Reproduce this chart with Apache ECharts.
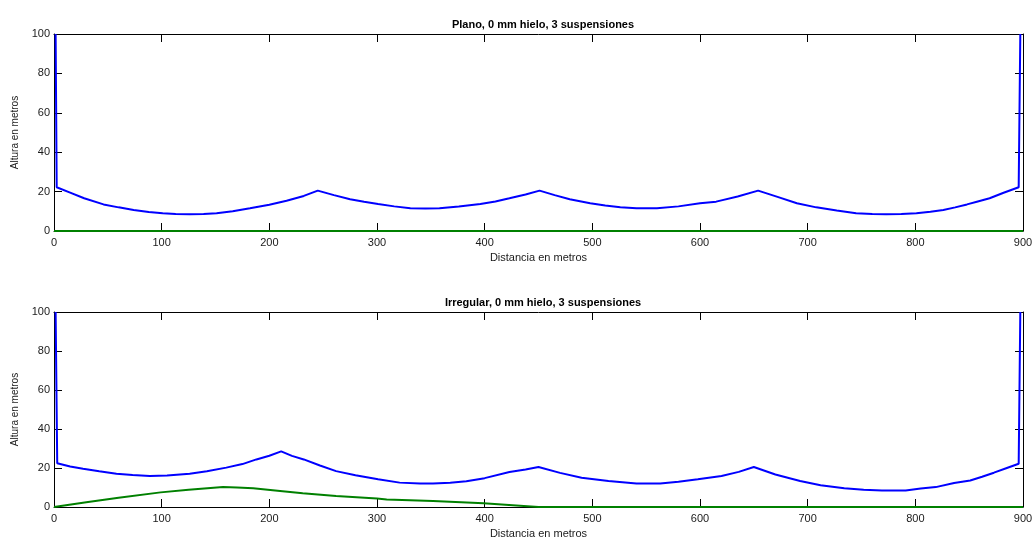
<!DOCTYPE html>
<html>
  <head>
    <meta charset="utf-8">
    <title>Perfil de vano</title>
    <script src="https://cdn.jsdelivr.net/npm/echarts@6/dist/echarts.min.js"></script>
    <style>
      html, body { margin: 0; padding: 0; background: #fff; }
    </style>
  </head>
  <body>
    <div id="chart" style="width: 1036px; height: 540px;"></div>
    <script type="text/javascript">
      // titulos y etiquetas
      var titles = ["Plano, 0 mm hielo, 3 suspensiones", "Irregular, 0 mm hielo, 3 suspensiones"];
      var xName = "Distancia en metros";
      var yName = "Altura en metros";

      // conductor (azul), caso plano
      var conductorPlano = [
        [1.5, 100], [2.5, 22.2], [15, 19.5], [28, 16.6], [46, 13.5], [60, 12], [74, 10.7],
        [88, 9.7], [101, 9.0], [113, 8.6], [126, 8.5], [139, 8.6], [151, 9.0], [166, 10],
        [182, 11.5], [200, 13.3], [216, 15.4], [232, 17.8], [245, 20.5], [260, 18.2],
        [275, 16.1], [288, 14.8], [301, 13.7], [316, 12.5], [331, 11.5], [345, 11.4],
        [358, 11.5], [376, 12.4], [396, 13.7], [410, 15], [423, 16.6], [438, 18.5],
        [451, 20.5], [465, 18.2], [479, 16.1], [498, 14.1], [512, 12.9], [526, 12.0],
        [541, 11.5], [560, 11.5], [580, 12.5], [600, 14.1], [615, 14.9], [635, 17.5],
        [654, 20.5], [672, 17.3], [690, 14.1], [708, 12.0], [727, 10.4], [745, 9.0],
        [760, 8.6], [773, 8.5], [787, 8.6], [801, 9.0], [814, 9.8], [826, 10.7],
        [837, 12.0], [848, 13.5], [858, 15], [869, 16.6], [882, 19.4], [896, 22.2], [897.5, 100]
      ];
      // terreno (verde), caso plano
      var terrenoPlano = [[0, 0], [900, 0]];

      // conductor (azul), caso irregular
      var conductorIrregular = [
        [1.5, 100], [3, 22.4], [15, 20.8], [27, 19.6], [42, 18.3], [58, 17.1], [73, 16.4],
        [89, 15.9], [105, 16.1], [126, 17.1], [142, 18.3], [160, 20.2], [175, 22],
        [188, 24.4], [200, 26.3], [211, 28.5], [221, 26.2], [232, 24.4], [247, 21.3],
        [262, 18.4], [280, 16.3], [301, 14.2], [321, 12.5], [340, 12.0], [352, 12.0],
        [368, 12.4], [383, 13.2], [400, 14.8], [423, 17.9], [438, 19.2], [450, 20.5],
        [470, 17.5], [490, 15.0], [515, 13.3], [541, 12.1], [563, 12.1], [580, 12.9],
        [598, 14.2], [620, 15.9], [636, 18.0], [650, 20.5], [670, 16.7], [693, 13.3],
        [712, 11.2], [734, 9.6], [752, 8.8], [769, 8.5], [791, 8.5], [805, 9.5],
        [819, 10.2], [836, 12.3], [851, 13.6], [862, 15.5], [873, 17.6], [885, 20],
        [896, 22.2], [897.5, 100]
      ];
      // terreno (verde), caso irregular
      var terrenoIrregular = [
        [0, 0], [30, 2.4], [60, 4.8], [99, 7.5], [125, 8.9], [157, 10.2], [170, 10.0],
        [185, 9.6], [210, 8.2], [231, 7.0], [262, 5.6], [300, 4.3], [309, 3.9],
        [352, 3.1], [399, 1.9], [426, 0.9], [450, 0], [900, 0]
      ];

      var FONT = "Liberation Sans, Arial, sans-serif";
      var TXT = "#1a1a1a";
      var grids = [
        { left: 54, right: 13, top: 34, height: 197 },
        { left: 54, right: 13, top: 312, height: 196 }
      ];

      function axisLine() {
        return { show: true, onZero: false, lineStyle: { color: "#000", width: 1 } };
      }
      function ticks() {
        return { show: true, inside: true, length: 8, lineStyle: { color: "#000", width: 1 } };
      }

      var xAxes = [], yAxes = [];
      grids.forEach(function (g, i) {
        xAxes.push({
          type: "value", gridIndex: i, position: "bottom", min: 0, max: 900, interval: 100,
          name: xName, nameLocation: "middle", nameGap: 21,
          nameTextStyle: { color: TXT, fontFamily: FONT, fontSize: 11 },
          axisLine: axisLine(), axisTick: ticks(), splitLine: { show: false },
          axisLabel: { color: TXT, fontFamily: FONT, fontSize: 11, margin: 6 }
        });
        xAxes.push({
          type: "value", gridIndex: i, position: "top", min: 0, max: 900, interval: 100,
          axisLine: axisLine(), axisTick: ticks(), splitLine: { show: false },
          axisLabel: { show: false }
        });
        yAxes.push({
          type: "value", gridIndex: i, position: "left", min: 0, max: 100, interval: 20,
          name: yName, nameLocation: "middle", nameGap: 31, nameRotate: 90,
          nameTextStyle: { color: TXT, fontFamily: FONT, fontSize: 10 },
          axisLine: axisLine(), axisTick: ticks(), splitLine: { show: false },
          axisLabel: { color: TXT, fontFamily: FONT, fontSize: 11, margin: 4 }
        });
        yAxes.push({
          type: "value", gridIndex: i, position: "right", min: 0, max: 100, interval: 20,
          axisLine: axisLine(), axisTick: ticks(), splitLine: { show: false },
          axisLabel: { show: false }
        });
      });

      function line(data, color, i) {
        return {
          type: "line", data: data, xAxisIndex: i * 2, yAxisIndex: i * 2,
          showSymbol: false, symbol: "none", z: 5,
          lineStyle: { color: color, width: 2 }, clip: false
        };
      }

      var chart = echarts.init(document.getElementById("chart"));
      chart.setOption({
        animation: false,
        backgroundColor: "#fff",
        title: titles.map(function (t, i) {
          return {
            text: t, left: 538, textAlign: "center", top: i === 0 ? 14 : 292,
            textStyle: { color: "#000", fontFamily: FONT, fontSize: 11, fontWeight: "bold" }
          };
        }),
        grid: grids,
        xAxis: xAxes,
        yAxis: yAxes,
        series: [
          line(conductorPlano, "#0000ff", 0),
          line(terrenoPlano, "#008000", 0),
          line(conductorIrregular, "#0000ff", 1),
          line(terrenoIrregular, "#008000", 1)
        ]
      });
    </script>
  </body>
</html>
